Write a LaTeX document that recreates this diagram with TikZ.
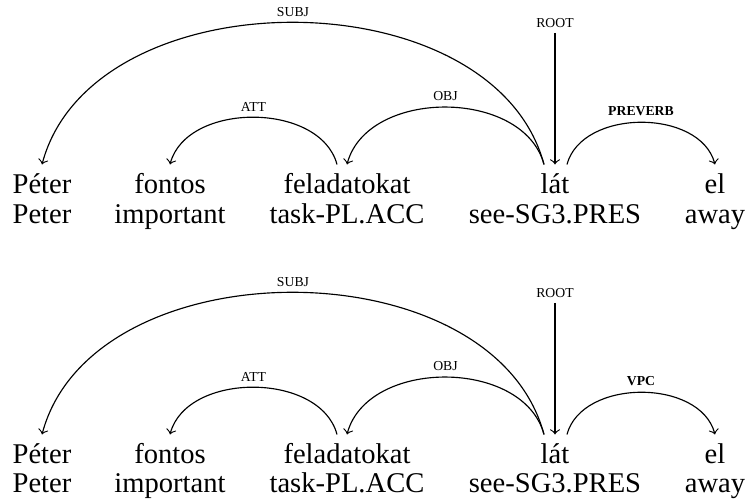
\documentclass[tikz,border=0pt]{standalone}
\usepackage{fontspec}
\setmainfont{Liberation Serif}
\usetikzlibrary{calc}

\begin{document}
\begin{tikzpicture}[
  x=0.35pt, y=0.35pt,
  word/.style={anchor=base, inner sep=0pt, text height=10.15pt,
               font=\fontsize{10}{10}\selectfont},
  gloss/.style={anchor=base, inner sep=0pt, font=\fontsize{10}{10}\selectfont},
  dep/.style={->, line width=0.4pt},
  lbl/.style={font=\fontsize{4.8}{5}\selectfont, inner sep=0pt},
  rel/.style={lbl, above=2pt}]
\useasboundingbox (0,0) rectangle (748,501);
\foreach \row/\base/\vrel in {top/307/PREVERB, bot/37/VPC} {
  % words and glosses
  \node[word] (peter-\row) at (42,\base) {Péter};
  \node[word] (fontos-\row) at (170,\base) {fontos};
  \node[word] (feladat-\row) at (347,\base) {feladatokat};
  \node[word] (lat-\row) at (555,\base) {lát};
  \node[word] (el-\row) at (715,\base) {el};
  \node[gloss] (g1-\row) at ($(peter-\row.base)+(0,-29)$) {Peter};
  \node[gloss] (g2-\row) at ($(fontos-\row.base)+(0,-29)$) {important};
  \node[gloss] (g3-\row) at ($(feladat-\row.base)+(0,-29)$) {task-PL.ACC};
  \node[gloss] (g4-\row) at ($(lat-\row.base)+(0,-29)$) {see-SG3.PRES};
  \node[gloss] (g5-\row) at ($(el-\row.base)+(0,-29)$) {away};
  % dependency arcs
  \draw[dep] ($(lat-\row.north)+(-11,0)$) .. controls +(105:196) and +(75:196) ..
    node[rel] (subj-\row) {SUBJ} (peter-\row.north);
  \draw[dep] ($(feladat-\row.north)+(-10,0)$) .. controls +(105:65) and +(75:65) ..
    node[rel] (att-\row) {ATT} (fontos-\row.north);
  \draw[dep] ($(lat-\row.north)+(-11,0)$) .. controls +(105:79) and +(75:79) ..
    node[rel] (obj-\row) {OBJ} (feladat-\row.north);
  \draw[dep] ($(lat-\row.north)+(12,0)$) .. controls +(75:58) and +(105:58) ..
    node[rel] (vp-\row) {\textbf{\vrel}} (el-\row.north);
  % root
  \node[lbl, inner sep=1.5pt] (root-\row) at ($(lat-\row.north)+(0,141)$) {ROOT};
  \draw[dep] (root-\row) -- (lat-\row.north);
}
\end{tikzpicture}
\end{document}
